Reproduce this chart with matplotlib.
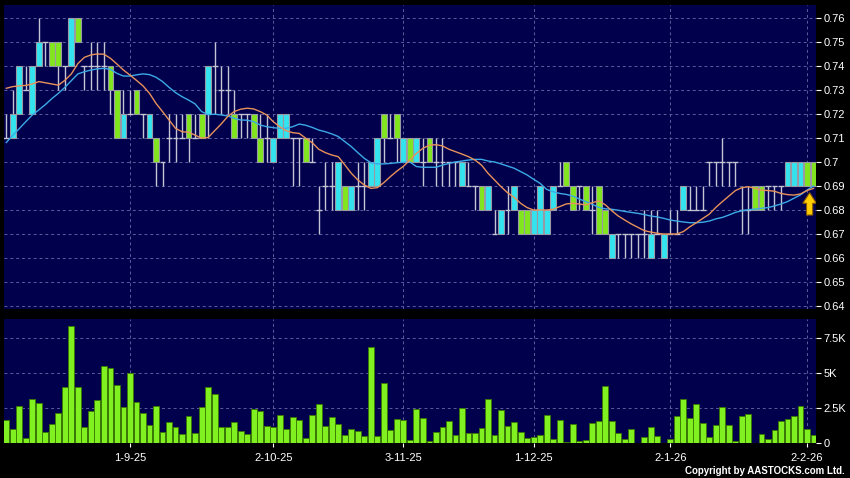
import matplotlib.pyplot as plt
import numpy as np
from matplotlib.patches import FancyArrow

plt.rcParams['font.family'] = ['Liberation Sans', 'DejaVu Sans']

# daily OHLC (0.01 tick size)
opens = [0.71, 0.71, 0.72, 0.73, 0.72, 0.74, 0.75, 0.75, 0.75, 0.74,
         0.74, 0.76, 0.74, 0.74, 0.74, 0.74, 0.74, 0.73, 0.71, 0.72,
         0.73, 0.72, 0.71, 0.71, 0.70, 0.71, 0.71, 0.71, 0.72, 0.71,
         0.72, 0.72, 0.74, 0.73, 0.73, 0.72, 0.72, 0.72, 0.72, 0.71,
         0.71, 0.70, 0.71, 0.71, 0.71, 0.71, 0.71, 0.70, 0.68, 0.69,
         0.69, 0.68, 0.69, 0.68, 0.69, 0.69, 0.69, 0.69, 0.72, 0.71,
         0.72, 0.70, 0.71, 0.70, 0.70, 0.71, 0.70, 0.70, 0.70, 0.70,
         0.69, 0.69, 0.69, 0.69, 0.68, 0.67, 0.67, 0.68, 0.68, 0.68,
         0.68, 0.67, 0.67, 0.67, 0.68, 0.69, 0.70, 0.69, 0.69, 0.69,
         0.68, 0.69, 0.68, 0.66, 0.67, 0.67, 0.67, 0.67, 0.67, 0.66,
         0.67, 0.66, 0.67, 0.67, 0.68, 0.68, 0.68, 0.68, 0.70, 0.70,
         0.70, 0.70, 0.70, 0.68, 0.68, 0.69, 0.69, 0.69, 0.69, 0.69,
         0.69, 0.69, 0.69, 0.70, 0.70]
highs = [0.72, 0.73, 0.74, 0.74, 0.74, 0.76, 0.75, 0.75, 0.75, 0.74,
         0.76, 0.76, 0.74, 0.75, 0.75, 0.75, 0.74, 0.73, 0.73, 0.73,
         0.73, 0.72, 0.72, 0.71, 0.70, 0.72, 0.72, 0.72, 0.72, 0.72,
         0.72, 0.74, 0.75, 0.74, 0.74, 0.73, 0.72, 0.72, 0.72, 0.72,
         0.72, 0.71, 0.72, 0.72, 0.71, 0.71, 0.71, 0.71, 0.69, 0.70,
         0.70, 0.70, 0.69, 0.69, 0.70, 0.70, 0.70, 0.71, 0.72, 0.72,
         0.72, 0.71, 0.71, 0.71, 0.71, 0.71, 0.71, 0.71, 0.70, 0.70,
         0.70, 0.70, 0.69, 0.69, 0.69, 0.68, 0.68, 0.69, 0.69, 0.68,
         0.68, 0.68, 0.69, 0.68, 0.69, 0.70, 0.70, 0.69, 0.69, 0.69,
         0.69, 0.69, 0.68, 0.67, 0.67, 0.67, 0.67, 0.67, 0.68, 0.68,
         0.68, 0.67, 0.68, 0.68, 0.69, 0.69, 0.69, 0.69, 0.70, 0.70,
         0.71, 0.70, 0.70, 0.69, 0.69, 0.69, 0.69, 0.69, 0.69, 0.69,
         0.70, 0.70, 0.70, 0.70, 0.70]
lows = [0.71, 0.71, 0.72, 0.73, 0.72, 0.74, 0.74, 0.74, 0.73, 0.73,
        0.74, 0.75, 0.73, 0.73, 0.73, 0.73, 0.72, 0.71, 0.71, 0.72,
        0.72, 0.71, 0.71, 0.69, 0.69, 0.70, 0.70, 0.71, 0.70, 0.71,
        0.71, 0.71, 0.72, 0.72, 0.72, 0.71, 0.71, 0.71, 0.71, 0.70,
        0.70, 0.70, 0.71, 0.71, 0.69, 0.69, 0.70, 0.70, 0.67, 0.68,
        0.68, 0.68, 0.68, 0.68, 0.68, 0.68, 0.69, 0.69, 0.70, 0.71,
        0.70, 0.70, 0.70, 0.70, 0.69, 0.70, 0.69, 0.69, 0.69, 0.69,
        0.69, 0.69, 0.68, 0.68, 0.68, 0.67, 0.67, 0.67, 0.68, 0.67,
        0.67, 0.67, 0.67, 0.67, 0.68, 0.69, 0.69, 0.68, 0.68, 0.68,
        0.67, 0.67, 0.67, 0.66, 0.66, 0.66, 0.66, 0.66, 0.66, 0.66,
        0.67, 0.66, 0.67, 0.67, 0.68, 0.68, 0.68, 0.68, 0.69, 0.69,
        0.69, 0.69, 0.69, 0.67, 0.67, 0.68, 0.68, 0.68, 0.68, 0.68,
        0.69, 0.69, 0.69, 0.69, 0.69]
closes = [0.71, 0.72, 0.74, 0.73, 0.74, 0.75, 0.75, 0.74, 0.74, 0.74,
          0.76, 0.75, 0.74, 0.74, 0.74, 0.74, 0.73, 0.71, 0.72, 0.72,
          0.72, 0.72, 0.72, 0.70, 0.70, 0.71, 0.71, 0.71, 0.71, 0.71,
          0.71, 0.74, 0.74, 0.73, 0.73, 0.71, 0.72, 0.72, 0.71, 0.70,
          0.71, 0.71, 0.72, 0.72, 0.71, 0.71, 0.70, 0.70, 0.68, 0.69,
          0.69, 0.70, 0.68, 0.69, 0.69, 0.69, 0.70, 0.71, 0.71, 0.71,
          0.71, 0.71, 0.70, 0.71, 0.70, 0.70, 0.70, 0.70, 0.70, 0.70,
          0.70, 0.69, 0.69, 0.68, 0.69, 0.67, 0.68, 0.68, 0.69, 0.67,
          0.67, 0.68, 0.69, 0.68, 0.69, 0.69, 0.69, 0.68, 0.69, 0.68,
          0.68, 0.67, 0.67, 0.67, 0.67, 0.67, 0.67, 0.67, 0.67, 0.67,
          0.67, 0.67, 0.67, 0.67, 0.69, 0.68, 0.68, 0.68, 0.70, 0.70,
          0.70, 0.70, 0.70, 0.68, 0.68, 0.68, 0.68, 0.69, 0.69, 0.69,
          0.70, 0.70, 0.70, 0.69, 0.69]

# 10-day and 20-day moving averages as drawn on the chart
ma10 = [0.7307, 0.7314, 0.7317, 0.7319, 0.7325, 0.7335, 0.7330, 0.7325, 0.7320, 0.7340,
        0.7367, 0.7410, 0.7436, 0.7446, 0.7450, 0.7449, 0.7432, 0.7408, 0.7383, 0.7362,
        0.7340, 0.7317, 0.7286, 0.7244, 0.7210, 0.7175, 0.7140, 0.7126, 0.7124, 0.7112,
        0.7099, 0.7102, 0.7130, 0.7158, 0.7189, 0.7210, 0.7220, 0.7224, 0.7221, 0.7210,
        0.7196, 0.7168, 0.7147, 0.7130, 0.7122, 0.7119, 0.7099, 0.7080, 0.7053, 0.7039,
        0.7029, 0.7022, 0.6988, 0.6953, 0.6925, 0.6904, 0.6890, 0.6893, 0.6914, 0.6939,
        0.6962, 0.6982, 0.7008, 0.7036, 0.7057, 0.7070, 0.7072, 0.7067, 0.7053, 0.7043,
        0.7033, 0.7022, 0.7008, 0.6987, 0.6953, 0.6925, 0.6897, 0.6872, 0.6853, 0.6828,
        0.6810, 0.6800, 0.6800, 0.6800, 0.6803, 0.6814, 0.6825, 0.6828, 0.6825, 0.6821,
        0.6830, 0.6838, 0.6822, 0.6797, 0.6775, 0.6758, 0.6742, 0.6728, 0.6714, 0.6708,
        0.6703, 0.6700, 0.6700, 0.6700, 0.6710, 0.6730, 0.6747, 0.6765, 0.6783, 0.6811,
        0.6835, 0.6858, 0.6881, 0.6893, 0.6897, 0.6890, 0.6883, 0.6881, 0.6878, 0.6869,
        0.6864, 0.6862, 0.6867, 0.6881, 0.6890]
ma20 = [0.7081, 0.7111, 0.7139, 0.7168, 0.7196, 0.7217, 0.7239, 0.7264, 0.7286, 0.7311,
        0.7339, 0.7367, 0.7376, 0.7383, 0.7388, 0.7390, 0.7386, 0.7369, 0.7358, 0.7358,
        0.7363, 0.7367, 0.7364, 0.7353, 0.7335, 0.7311, 0.7289, 0.7272, 0.7258, 0.7242,
        0.7210, 0.7197, 0.7199, 0.7196, 0.7192, 0.7182, 0.7175, 0.7174, 0.7168, 0.7154,
        0.7147, 0.7143, 0.7140, 0.7140, 0.7147, 0.7158, 0.7153, 0.7144, 0.7133, 0.7126,
        0.7117, 0.7106, 0.7085, 0.7064, 0.7039, 0.7015, 0.6997, 0.6992, 0.6992, 0.6994,
        0.6997, 0.6999, 0.7000, 0.6981, 0.6978, 0.6978, 0.6978, 0.6987, 0.6994, 0.7000,
        0.7004, 0.7008, 0.7011, 0.7011, 0.7004, 0.7000, 0.6992, 0.6983, 0.6974, 0.6960,
        0.6946, 0.6928, 0.6911, 0.6886, 0.6876, 0.6869, 0.6865, 0.6858, 0.6846, 0.6835,
        0.6824, 0.6811, 0.6805, 0.6803, 0.6799, 0.6794, 0.6790, 0.6786, 0.6781, 0.6775,
        0.6771, 0.6765, 0.6758, 0.6754, 0.6750, 0.6747, 0.6747, 0.6749, 0.6754, 0.6763,
        0.6769, 0.6779, 0.6790, 0.6797, 0.6801, 0.6804, 0.6807, 0.6810, 0.6817, 0.6825,
        0.6835, 0.6849, 0.6863, 0.6883, 0.6900]

volume = [1650, 1000, 2650, 400, 3200, 2850, 780, 1400, 2200, 4050,
          8350, 4000, 1150, 2300, 3100, 5550, 5400, 4170, 2600, 5000,
          2970, 2200, 1300, 2650, 830, 1500, 1130, 680, 1980, 750,
          2600, 4050, 3500, 1130, 1200, 1530, 850, 680, 2450, 2330,
          1250, 1200, 2000, 1000, 1900, 1650, 350, 2000, 2780, 1230,
          1890, 1370, 590, 1010, 870, 520, 6910, 520, 4290, 940,
          1750, 1650, 240, 2480, 1840, 170, 780, 1130, 1580, 570,
          2520, 750, 710, 1110, 3180, 610, 2410, 1250, 1530, 800,
          380, 420, 610, 2050, 330, 1650, 120, 1370, 190, 240,
          1460, 1600, 4060, 1600, 750, 280, 990, 50, 420, 1130,
          520, 50, 280, 1930, 3180, 1790, 2780, 1420, 420, 1300,
          2590, 1340, 190, 1930, 2080, 50, 660, 280, 940, 1580,
          1750, 1930, 2640, 990, 610]

date_pos = [19, 41, 61, 81, 102, 123]
date_labels = ['1-9-25', '2-10-25', '3-11-25', '1-12-25', '2-1-26', '2-2-26']
price_ticks = [0.64, 0.65, 0.66, 0.67, 0.68, 0.69, 0.70, 0.71, 0.72, 0.73, 0.74, 0.75, 0.76]
vol_ticks = [0, 2500, 5000, 7500]
vol_labels = ['0', '2.5K', '5K', '7.5K']

BG = '#00004d'
GRID = '#5c5c9c'
UP = '#33e4ee'
DOWN = '#82e61e'
WICK = '#c4c4d4'
EDGE = '#9a9aa6'
ORANGE = '#e8925a'
BLUE = '#3caae6'
VOL = '#80f020'

o = np.array(opens)
h = np.array(highs)
l = np.array(lows)
c = np.array(closes)
x = np.arange(len(c))
diff = np.round(c - o, 4)
up = diff > 0
down = diff < 0
flat = diff == 0
lo = np.minimum(o, c)
hi = np.maximum(o, c)

fig = plt.figure(figsize=(8.5, 4.78), dpi=100, facecolor='black')
ax = fig.add_axes([4 / 850, 1 - 309 / 478, 812 / 850, 304 / 478])
axv = fig.add_axes([4 / 850, 1 - 443.3 / 478, 812 / 850, 124 / 478], sharex=ax)

for a in (ax, axv):
    a.set_facecolor(BG)
    for s in a.spines.values():
        s.set_visible(False)
    a.grid(True, color=GRID, ls=(0, (3, 3)), lw=0.7)
    a.set_axisbelow(True)
    a.yaxis.tick_right()
    a.tick_params(axis='y', colors='white', labelsize=8, length=3.5,
                  width=0.8, pad=2)

# candles
ax.vlines(x, l, h, color=WICK, lw=1, zorder=2)
ax.hlines(o[flat], x[flat] - 0.45, x[flat] + 0.45, color=WICK, lw=1, zorder=2)
ax.bar(x[up], (hi - lo)[up], bottom=lo[up], width=0.9, color=UP,
       edgecolor=EDGE, lw=0.8, zorder=3)
ax.bar(x[down], (hi - lo)[down], bottom=lo[down], width=0.9, color=DOWN,
       edgecolor=EDGE, lw=0.8, zorder=3)
ax.plot(x, ma20, color=BLUE, lw=1, zorder=4)
ax.plot(x, ma10, color=ORANGE, lw=1, zorder=4)

last = len(c) - 1
ax.add_patch(FancyArrow(last - 0.6, ma20[-1] - 0.0121, 0, 0.0093, width=0.95,
                        head_width=2.1, head_length=0.0044,
                        length_includes_head=True, fc='#ffcc00',
                        ec='#8a5a00', lw=0.8, zorder=6))

ax.set_xlim(-0.35, 124.38)
ax.set_ylim(0.63875, 0.7654)
ax.set_yticks(price_ticks)
ax.set_yticklabels([f'{v:g}' for v in price_ticks])
ax.set_xticks(date_pos)
ax.tick_params(axis='x', length=0, labelbottom=False)

# volume
axv.bar(x, volume, width=0.9, color=VOL, edgecolor='#3a7a00', lw=0.6, zorder=3)
axv.set_ylim(0, 8860)
axv.set_yticks(vol_ticks)
axv.set_yticklabels(vol_labels)
axv.set_xticks(date_pos)
axv.set_xticklabels(date_labels)
axv.tick_params(axis='x', colors='white', labelsize=8, length=3, width=0.8, pad=4)

fig.text(0.994, 0.0146, 'Copyright by AASTOCKS.com Ltd.', ha='right', va='center',
         color='white', fontsize=7, fontweight='bold')

fig.savefig('out.png', dpi=100, facecolor='black')
